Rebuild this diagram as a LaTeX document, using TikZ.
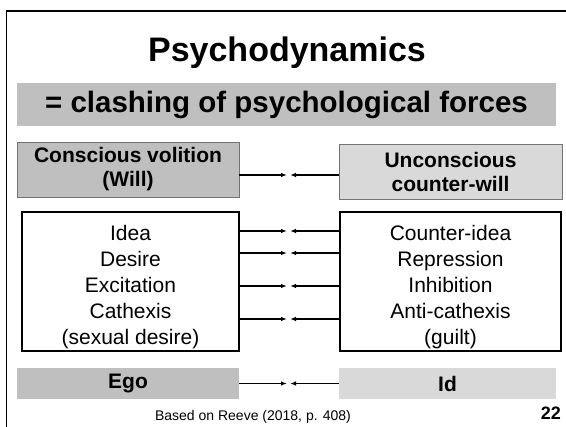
\documentclass[tikz,border=0pt]{standalone}
\usepackage{fontspec}
\setmainfont{Liberation Sans}
\usetikzlibrary{arrows.meta}
\definecolor{darkband}{HTML}{BFBFBF}
\definecolor{lightband}{HTML}{D9D9D9}
\tikzset{
  headbox/.style={rectangle, draw=black!55, line width=0.8pt, inner sep=0pt, align=center,
    font=\fontsize{21}{24}\selectfont\bfseries},
  band/.style={rectangle, inner sep=0pt, align=center, font=\fontsize{21}{24}\selectfont\bfseries},
  listbox/.style={rectangle, draw=black, line width=1.5pt, inner sep=0pt},
  listtext/.style={align=center, inner sep=0pt, font=\fontsize{21}{26}\selectfont},
  push/.style={line width=1.4pt, -{Latex[length=6pt,width=4.5pt]}},
}
\begin{document}
\begin{tikzpicture}[x=1pt,y=-1pt]
\useasboundingbox (0,0) rectangle (566,427);
% Slide frame
\draw[line width=1.5pt] (6.5,427) -- (6.5,11) -- (566,11);

% Title and subtitle band
\node[font=\fontsize{34}{40}\selectfont\bfseries, anchor=base] (title) at (287,62) {Psychodynamics};
\node[band, fill=darkband, minimum width=539pt, minimum height=43pt,
  font=\fontsize{29.5}{34}\selectfont\bfseries] (forces) at (286.5,104.5) {= clashing of psychological forces};

% Will vs counter-will
\node[headbox, fill=darkband, minimum width=222pt, minimum height=55pt] (will) at (128,169.5) {Conscious volition\\(Will)};
\node[headbox, fill=lightband, minimum width=223pt, minimum height=55pt] (cwill) at (450.5,171.5) {Unconscious\\counter-will};

% Idea lists
\node[listbox, minimum width=217pt, minimum height=139pt] (ideas) at (130.5,281.5) {};
\node[listbox, minimum width=221pt, minimum height=139pt] (counter) at (450.5,281.5) {};
\node[listtext] (ideatxt) at (130.5,287) {Idea\\Desire\\Excitation\\Cathexis\\(sexual desire)};
\node[listtext] (countertxt) at (450.5,287) {Counter-idea\\Repression\\Inhibition\\Anti-cathexis\\(guilt)};

% Ego vs Id
\node[band, fill=darkband, minimum width=222pt, minimum height=31pt] (ego) at (128,383.5) {Ego};
\node[band, fill=lightband, minimum width=217pt, minimum height=31pt] (id) at (447.5,383.5) {Id};

% Clashing arrows
\coordinate (meet) at (288.5,175);
\draw[push] (will.east |- meet) -- ([xshift=-1.5pt]meet);
\draw[push] (cwill.west |- meet) -- ([xshift=1.5pt]meet);
\foreach \y [count=\i] in {231,253,286,319} {
    \coordinate (m\i) at (288.5,\y);
    \draw[push] (ideas.east |- m\i) -- ([xshift=-1.5pt]m\i);
    \draw[push] (counter.west |- m\i) -- ([xshift=1.5pt]m\i);
}
\coordinate (clash) at (288.5,383.5);
\draw[push] (ego.east |- clash) -- ([xshift=-1.5pt]clash);
\draw[push] (id.west |- clash) -- ([xshift=1.5pt]clash);

% Source and slide number
\node[font=\fontsize{14}{16}\selectfont] (source) at (253,417) {Based on Reeve (2018, p. 408)};
\node[font=\fontsize{18}{20}\selectfont\bfseries] (slideno) at (551,413.5) {22};
\end{tikzpicture}
\end{document}
